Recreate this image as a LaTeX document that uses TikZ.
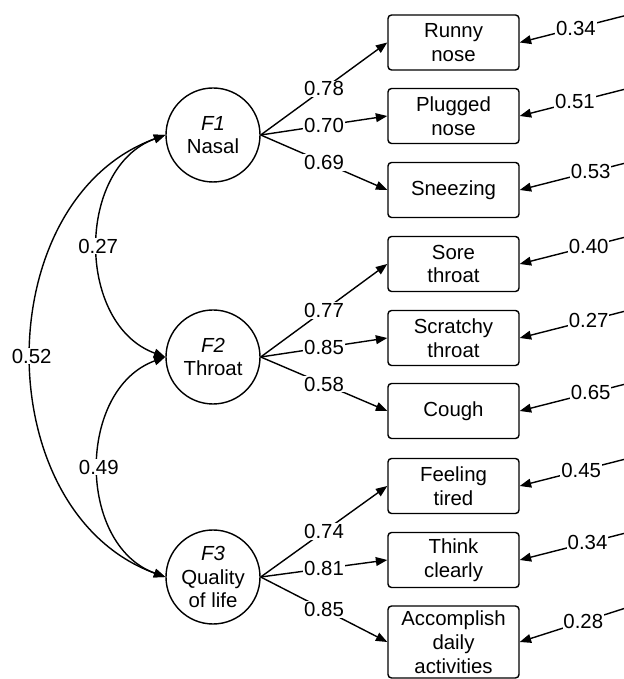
\documentclass[tikz,border=0pt]{standalone}
\usepackage{fontspec}
\setmainfont{Liberation Sans}
\usetikzlibrary{arrows.meta}

\begin{document}
\begin{tikzpicture}[line width=0.8pt, >={Triangle[length=6.5pt,width=5pt]},
  every node/.style={font=\fontsize{11.6}{13.5}\selectfont},
  factor/.style={draw, circle, minimum size=1.88cm, align=center, inner sep=0pt},
  item/.style={draw, rounded corners=2pt, minimum width=2.62cm, minimum height=1.1cm, align=center, inner sep=1pt},
  lbl/.style={fill=white, inner sep=0.5pt}]
  \useasboundingbox (0,0) rectangle (12.46,13.58);
  % latent factors
  \node[factor] (f1) at (4.26,10.88) {\textit{F1}\\Nasal};
  \node[factor] (f2) at (4.26,6.44)  {\textit{F2}\\Throat};
  \node[factor] (f3) at (4.26,2.04)  {\textit{F3}\\Quality\\of life};
  % observed items
  \node[item] (b1) at (9.07,12.73) {Runny\\nose};
  \node[item] (b2) at (9.07,11.26) {Plugged\\nose};
  \node[item] (b3) at (9.07,9.78)  {Sneezing};
  \node[item] (b4) at (9.07,8.30)  {Sore\\throat};
  \node[item] (b5) at (9.07,6.82)  {Scratchy\\throat};
  \node[item] (b6) at (9.07,5.36)  {Cough};
  \node[item] (b7) at (9.07,3.86)  {Feeling\\tired};
  \node[item] (b8) at (9.07,2.38)  {Think\\clearly};
  \node[item, minimum height=1.44cm] (b9) at (9.07,0.74) {Accomplish\\daily\\activities};
  % loadings
  \draw[->] (f1.east) -- node[lbl] {0.78} (b1.west);
  \draw[->] (f1.east) -- node[lbl] {0.70} (b2.west);
  \draw[->] (f1.east) -- node[lbl] {0.69} (b3.west);
  \draw[->] (f2.east) -- node[lbl] {0.77} (b4.west);
  \draw[->] (f2.east) -- node[lbl] {0.85} (b5.west);
  \draw[->] (f2.east) -- node[lbl] {0.58} (b6.west);
  \draw[->] (f3.east) -- node[lbl] {0.74} (b7.west);
  \draw[->] (f3.east) -- node[lbl] {0.81} (b8.west);
  \draw[->] (f3.east) -- node[lbl] {0.85} (b9.west);
  % error terms
  \foreach \b/\v/\p/\d in {b1/0.34/0.47/0.54, b2/0.51/0.48/0.54, b3/0.53/0.33/0.54,
                           b4/0.40/0.35/0.54, b5/0.27/0.35/0.54, b6/0.65/0.33/0.54,
                           b7/0.45/0.42/0.54, b8/0.34/0.36/0.54, b9/0.28/0.40/0.68} {
    \coordinate (e\b) at ([xshift=2.12cm, yshift=\d cm]\b.east);
    \draw[->] (e\b) -- node[lbl, pos=\p] {\v} (\b.east);
  }
  % correlations
  \draw[<->] (f1.west) to[out=200, in=160, looseness=1.1] node[lbl] {0.27} (f2.west);
  \draw[<->] (f2.west) to[out=200, in=160, looseness=1.1] node[lbl] {0.49} (f3.west);
  \draw[<->] (f1.west) to[out=200, in=160, looseness=1.1] node[lbl] {0.52} (f3.west);
\end{tikzpicture}
\end{document}
